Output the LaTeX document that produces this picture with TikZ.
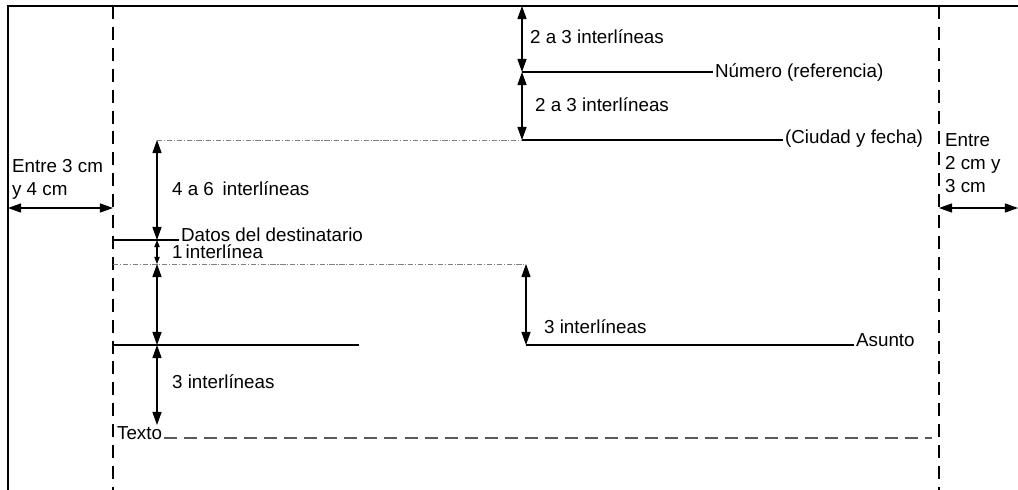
\documentclass[tikz,border=0pt]{standalone}
\usepackage{fontspec}
\setmainfont{Liberation Sans}
\usetikzlibrary{arrows.meta}

\begin{document}
\begin{tikzpicture}[x=0.02cm, y=-0.02cm, font=\fontsize{10.7}{12.8}\selectfont,
		txt/.style={anchor=base west, inner xsep=1pt, inner ysep=0pt},
		borde/.style={line width=1.1pt},
		margen/.style={line width=1pt, dash pattern=on 7.4pt off 4.5pt},
		renglon/.style={line width=1pt},
		guia/.style={line width=0.4pt, gray, dash pattern=on 3pt off 1pt on 0.6pt off 1pt},
		cuerpo/.style={line width=0.8pt, black!65, dash pattern=on 7.4pt off 4pt},
		cota/.style={line width=0.7pt, {Triangle[length=7.5pt,width=5.2pt]}-{Triangle[length=7.5pt,width=5.2pt]}},
		cotita/.style={line width=0.6pt, {Triangle[length=4pt,width=3pt]}-{Triangle[length=4pt,width=3pt]}}]
		\useasboundingbox (0,0) rectangle (1018,490);

		\coordinate (supIzq) at (8,6);
		\coordinate (supDer) at (1018,6);
		\coordinate (infIzq) at (8,490);
		\coordinate (mIzqA) at (113,6);
		\coordinate (mIzqB) at (113,490);
		\coordinate (mDerA) at (939,6);
		\coordinate (mDerB) at (939,490);
		\coordinate (izq) at (8,208);
		\coordinate (izqM) at (113,208);
		\coordinate (derM) at (939,208);
		\coordinate (der) at (1018,208);

		\coordinate (cima) at (522,6);
		\coordinate (ref) at (522,72);
		\coordinate (fecha) at (522,140);
		\coordinate (g1) at (157,140);
		\coordinate (d0) at (113,240);
		\coordinate (d1) at (157,240);
		\coordinate (g2) at (113,264);
		\coordinate (d2) at (157,264);
		\coordinate (d3) at (157,345);
		\coordinate (d4) at (157,425);
		\coordinate (l0) at (113,345);
		\coordinate (l1) at (359,345);
		\coordinate (a0) at (526,264);
		\coordinate (a1) at (526,345);
		\coordinate (t2) at (932,438);

		\node[txt] (numero) at (713,77) {Número (referencia)};
		\node[txt] (ciudad) at (783,143) {(Ciudad y fecha)};
		\node[txt] (datos) at (179,241) {Datos del destinatario};
		\node[txt] (asunto) at (854,346) {Asunto};
		\node[txt] (texto) at (115,439) {Texto};

		\node[txt] (e1) at (528,43) {2 a 3 interlíneas};
		\node[txt] (e2) at (533,111) {2 a 3 interlíneas};
		\node[txt] (e3) at (170,195) {4 a 6\hspace{2pt} interlíneas};
		\node[txt] (e4) at (170,258) {1\,interlínea};
		\node[txt] (e5) at (170,388) {3 interlíneas};
		\node[txt] (e6) at (542,333) {3 interlíneas};

		\node[txt] (mi1) at (10,172) {Entre 3 cm};
		\node[txt] (mi2) at (10,195) {y 4 cm};
		\node[txt] (md1) at (943,146) {Entre};
		\node[txt] (md2) at (943,169) {2 cm y};
		\node[txt] (md3) at (943,192) {3 cm};

		\draw[borde] (infIzq) -- (supIzq) -- (supDer);
		\draw[margen] (mIzqA) -- (mIzqB);
		\draw[margen] (mDerA) -- (mDerB);
		\draw[cota] (izq) -- (izqM);
		\draw[cota] (derM) -- (der);

		\draw[cota] (cima) -- (ref);
		\draw[renglon] (ref) -- (ref -| numero.west);
		\draw[cota] (ref) -- (fecha);
		\draw[renglon] (fecha) -- (fecha -| ciudad.west);
		\draw[guia] (g1) -- (fecha);

		\draw[cota] (g1) -- (d1);
		\draw[renglon] (d0) -- (d0 -| datos.west);
		\draw[cotita] (d1) -- (d2);
		\draw[guia] (g2) -- (a0);
		\draw[cota] (d2) -- (d3);
		\draw[renglon] (l0) -- (l1);
		\draw[cota] (d3) -- (d4);

		\draw[cota] (a0) -- (a1);
		\draw[renglon] (a1) -- (a1 -| asunto.west);
		\draw[cuerpo] (t2 -| texto.east) -- (t2);
	\end{tikzpicture}
\end{document}
